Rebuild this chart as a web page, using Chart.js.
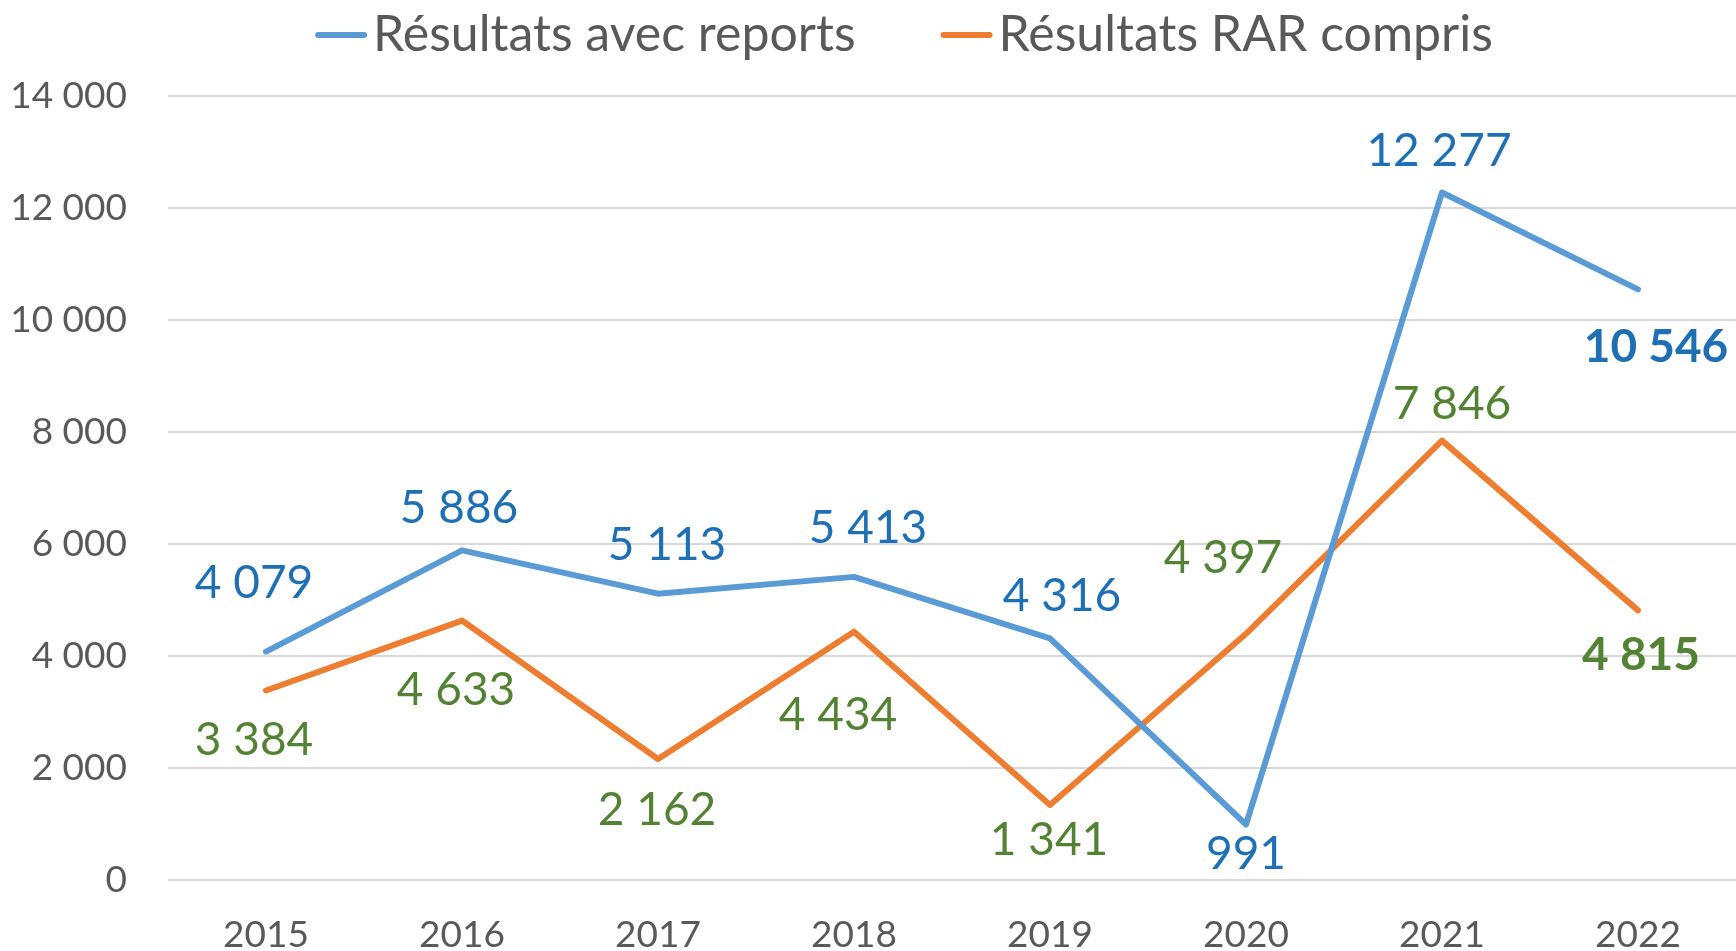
<!DOCTYPE html>
<html>
<head>
<meta charset="utf-8">
<script src="https://cdn.jsdelivr.net/npm/chart.js@4.4.1/dist/chart.umd.min.js"></script>
<style>
  html, body { margin: 0; padding: 0; background: #ffffff; }
  #wrap { width: 1736px; height: 951px; position: relative; }
</style>
</head>
<body>
<div id="wrap"><canvas id="chartResults"></canvas></div>
<script>
Chart.defaults.font.family = "Lato, 'Open Sans', sans-serif";
Chart.defaults.color = '#595959';

const years = ['2015', '2016', '2017', '2018', '2019', '2020', '2021', '2022'];
const withCarryOver = [4079, 5886, 5113, 5413, 4316, 991, 12277, 10546];
const withRar = [3384, 4633, 2162, 4434, 1341, 4397, 7846, 4815];
const yTicks = [0, 2000, 4000, 6000, 8000, 10000, 12000, 14000];

// décalage manuel des étiquettes (px) par rapport au point
const labelShift = [
    { dx: [-12, -3, 9, 14, 12, 0, -3, 18], dy: [-68, -42, -49, -49, -42, 30, -41, 58] },
    { dx: [-12, -6, -1, -16, -1, -23, 10, 3], dy: [50, 70, 51, 83, 35, -76, -36, 45] }
];
const labelColors = ['#1F6FB5', '#548235'];

const fmt = (v) => String(v).replace(/\B(?=(\d{3})+(?!\d))/g, ' ');

// Étiquettes de données
const valueLabels = {
    id: 'valueLabels',
    afterDatasetsDraw(chart) {
        const ctx = chart.ctx;
        ctx.save();
        ctx.textAlign = 'center';
        ctx.textBaseline = 'middle';
        chart.data.datasets.forEach((ds, d) => {
            const meta = chart.getDatasetMeta(d);
            meta.data.forEach((pt, i) => {
                const last = i === ds.data.length - 1;
                ctx.font = (last ? 'bold ' : '') + '46px Lato, sans-serif';
                ctx.fillStyle = labelColors[d];
                ctx.fillText(fmt(ds.data[i]), pt.x + labelShift[d].dx[i], pt.y + labelShift[d].dy[i]);
            });
        });
        ctx.restore();
    }
};

// Légende en haut (trait + texte)
const topLegend = {
    id: 'topLegend',
    afterDraw(chart) {
        const ctx = chart.ctx;
        const lineLen = 52, gap = 6, itemGap = 85, y = 35;
        ctx.save();
        ctx.font = '50px Lato, sans-serif';
        const widths = chart.data.datasets.map(ds => ctx.measureText(ds.label).width);
        const total = widths.reduce((s, w) => s + lineLen + gap + w, 0) + itemGap * (widths.length - 1);
        let x = chart.width / 2 + 36 - total / 2;
        ctx.textBaseline = 'middle';
        ctx.textAlign = 'left';
        chart.data.datasets.forEach((ds, d) => {
            ctx.strokeStyle = ds.borderColor;
            ctx.lineWidth = 6;
            ctx.lineCap = 'round';
            ctx.beginPath();
            ctx.moveTo(x + 3, y);
            ctx.lineTo(x + lineLen - 3, y);
            ctx.stroke();
            ctx.fillStyle = '#595959';
            ctx.fillText(ds.label, x + lineLen + gap, y);
            x += lineLen + gap + widths[d] + itemGap;
        });
        ctx.restore();
    }
};

const ctx = document.getElementById('chartResults').getContext('2d');
new Chart(ctx, {
    type: 'line',
    data: {
        labels: years,
        datasets: [{
            label: 'Résultats avec reports',
            data: withCarryOver,
            borderColor: '#5B9BD5',
            backgroundColor: '#5B9BD5',
            borderWidth: 6,
            borderCapStyle: 'round',
            borderJoinStyle: 'round',
            pointRadius: 0,
            tension: 0
        }, {
            label: 'Résultats RAR compris',
            data: withRar,
            borderColor: '#ED7D31',
            backgroundColor: '#ED7D31',
            borderWidth: 6,
            borderCapStyle: 'round',
            borderJoinStyle: 'round',
            pointRadius: 0,
            tension: 0
        }]
    },
    options: {
        responsive: true,
        maintainAspectRatio: false,
        animation: false,
        layout: {
            padding: { top: 96, right: -6, bottom: 0, left: 0 }
        },
        plugins: {
            legend: { display: false },
            tooltip: { enabled: false }
        },
        scales: {
            x: {
                offset: true,
                grid: { display: false },
                border: { display: false },
                ticks: {
                    padding: 25,
                    font: { size: 37 },
                    color: '#595959'
                },
                afterFit: (scale) => { scale.height = 71; }
            },
            y: {
                min: 0,
                max: 14000,
                afterBuildTicks: (scale) => { scale.ticks = yTicks.map(v => ({ value: v })); },
                grid: { color: '#D9D9D9', lineWidth: 2, drawTicks: false },
                border: { display: false },
                ticks: {
                    padding: 41,
                    font: { size: 37 },
                    color: '#595959',
                    callback: (v) => fmt(v)
                },
                afterFit: (scale) => { scale.width = 168; }
            }
        }
    },
    plugins: [valueLabels, topLegend]
});
</script>
</body>
</html>
